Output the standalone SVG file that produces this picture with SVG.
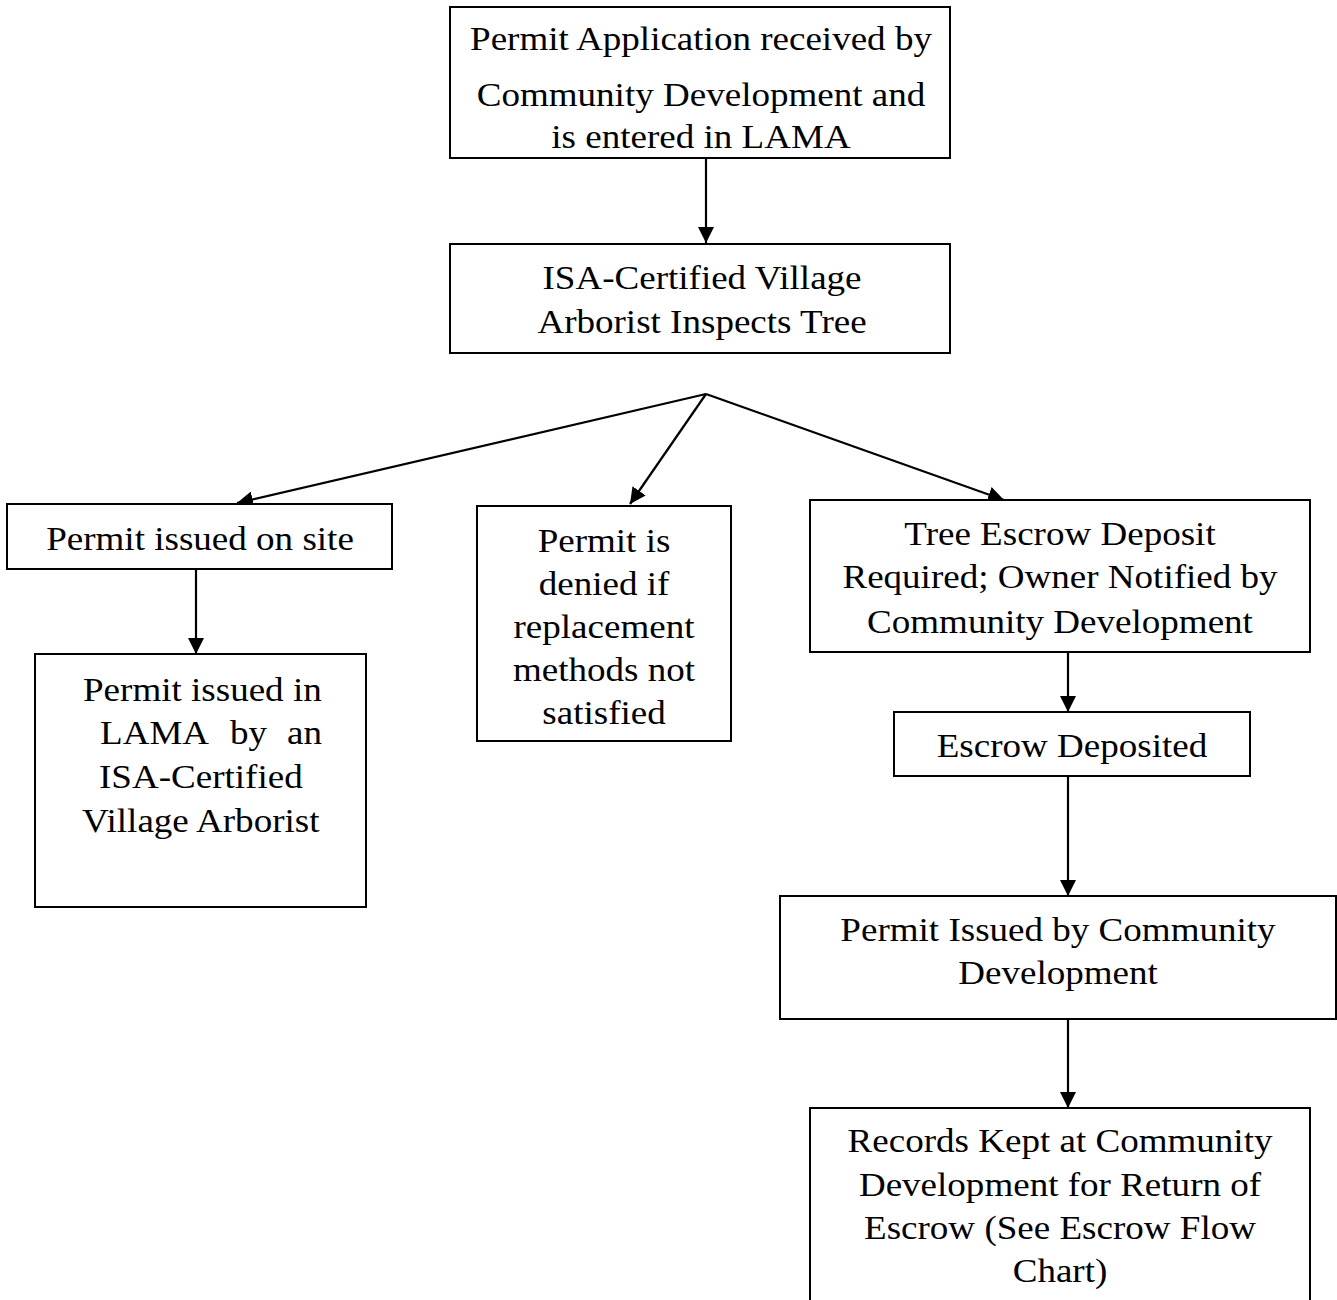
<svg xmlns="http://www.w3.org/2000/svg" width="1337" height="1300" viewBox="0 0 1337 1300">
<style>
.box{fill:#fff;stroke:#000;stroke-width:2}
.t{font-family:"Liberation Serif","Times New Roman",serif;font-size:34px;fill:#000;text-anchor:middle}
.tl{font-family:"Liberation Serif","Times New Roman",serif;font-size:34px;fill:#000;text-anchor:start}
.c{stroke:#000;stroke-width:2.2;fill:none;marker-end:url(#ah)}
</style>
<defs>
<marker id="ah" viewBox="0 0 16 16" refX="16" refY="8" markerWidth="16" markerHeight="16" markerUnits="userSpaceOnUse" orient="auto">
<path d="M0,0 L16,8 L0,16 z" fill="#000"/>
</marker>
</defs>
<rect width="1337" height="1300" fill="#fff"/>
<g id="connectors">
<line class="c" x1="706" y1="158" x2="706" y2="243"/>
<line class="c" x1="706" y1="394" x2="237" y2="503"/>
<line class="c" x1="706" y1="394" x2="630" y2="504"/>
<line class="c" x1="706" y1="394" x2="1004" y2="500"/>
<line class="c" x1="196" y1="569" x2="196" y2="654"/>
<line class="c" x1="1068" y1="652" x2="1068" y2="712"/>
<line class="c" x1="1068" y1="776" x2="1068" y2="896"/>
<line class="c" x1="1068" y1="1019" x2="1068" y2="1108"/>
</g>
<g id="n1">
<rect class="box" x="450" y="7" width="500" height="151"/>
<text class="t" transform="translate(701,50) scale(1.09,1)"><tspan x="0" y="0">Permit Application received by</tspan><tspan x="0" y="56">Community Development and</tspan><tspan x="0" y="98">is entered in LAMA</tspan></text>
</g>
<g id="n2">
<rect class="box" x="450" y="244" width="500" height="109"/>
<text class="t" transform="translate(702,289) scale(1.09,1)"><tspan x="0" y="0">ISA-Certified Village</tspan><tspan x="0" y="44">Arborist Inspects Tree</tspan></text>
</g>
<g id="n3">
<rect class="box" x="7" y="504" width="385" height="65"/>
<text class="t" transform="translate(200,550) scale(1.09,1)">Permit issued on site</text>
</g>
<g id="n4">
<rect class="box" x="35" y="654" width="331" height="253"/>
<text class="tl" transform="translate(83,701) scale(1.09,1)">Permit issued in</text>
<text class="tl" transform="translate(100,744) scale(1.09,1)">LAMA</text>
<text class="tl" transform="translate(230,744) scale(1.09,1)">by</text>
<text class="tl" transform="translate(287,744) scale(1.09,1)">an</text>
<text class="tl" transform="translate(99,788) scale(1.09,1)">ISA-Certified</text>
<text class="tl" transform="translate(82,832) scale(1.09,1)">Village Arborist</text>
</g>
<g id="n5">
<rect class="box" x="477" y="506" width="254" height="235"/>
<text class="t" transform="translate(604,552) scale(1.09,1)"><tspan x="0" y="0">Permit is</tspan><tspan x="0" y="43">denied if</tspan><tspan x="0" y="86">replacement</tspan><tspan x="0" y="129">methods not</tspan><tspan x="0" y="172">satisfied</tspan></text>
</g>
<g id="n6">
<rect class="box" x="810" y="500" width="500" height="152"/>
<text class="t" transform="translate(1060,545) scale(1.09,1)"><tspan x="0" y="0">Tree Escrow Deposit</tspan><tspan x="0" y="43">Required; Owner Notified by</tspan><tspan x="0" y="88">Community Development</tspan></text>
</g>
<g id="n7">
<rect class="box" x="894" y="712" width="356" height="64"/>
<text class="t" transform="translate(1072,757) scale(1.09,1)">Escrow Deposited</text>
</g>
<g id="n8">
<rect class="box" x="780" y="896" width="556" height="123"/>
<text class="t" transform="translate(1058,941) scale(1.09,1)"><tspan x="0" y="0">Permit Issued by Community</tspan><tspan x="0" y="43">Development</tspan></text>
</g>
<g id="n9">
<rect class="box" x="810" y="1108" width="500" height="210"/>
<text class="t" transform="translate(1060,1152) scale(1.09,1)"><tspan x="0" y="0">Records Kept at Community</tspan><tspan x="0" y="44">Development for Return of</tspan><tspan x="0" y="87">Escrow (See Escrow Flow</tspan><tspan x="0" y="130">Chart)</tspan></text>
</g>
</svg>
